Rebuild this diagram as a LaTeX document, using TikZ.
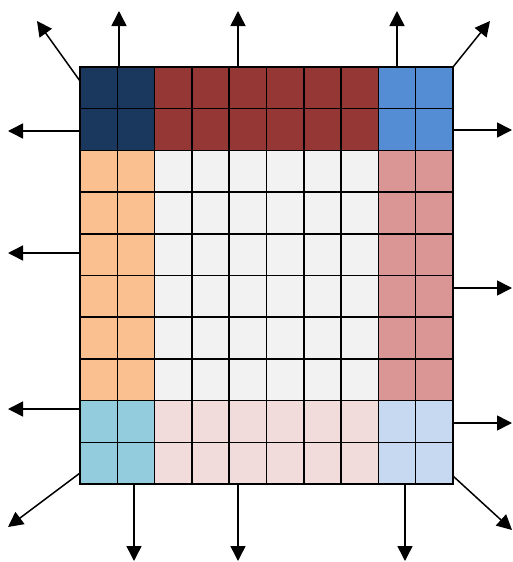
\documentclass[tikz,border=0pt]{standalone}
\usetikzlibrary{arrows.meta}

\definecolor{navycell}{HTML}{1A385E}
\definecolor{redcell}{HTML}{953735}
\definecolor{bluecell}{HTML}{548DD4}
\definecolor{orangecell}{HTML}{FAC090}
\definecolor{graycell}{HTML}{F2F2F2}
\definecolor{pinkcell}{HTML}{D99694}
\definecolor{cyancell}{HTML}{93CDDD}
\definecolor{rosecell}{HTML}{F2DCDB}
\definecolor{skycell}{HTML}{C6D9F1}

\begin{document}
\begin{tikzpicture}[x=1pt, y=-1pt,
    cellline/.style={draw=black, line width=1.5pt},
    outarrow/.style={-{Triangle[length=15pt, width=15pt]}, line width=1.5pt}]

    \useasboundingbox (0,0) rectangle (513,562);

    % Fill the blocks of cells
    \foreach \c/\r/\w/\h/\col in {0/0/2/2/navycell, 2/0/6/2/redcell, 8/0/2/2/bluecell,
                                  0/2/2/6/orangecell, 2/2/6/6/graycell, 8/2/2/6/pinkcell,
                                  0/8/2/2/cyancell, 2/8/6/2/rosecell, 8/8/2/2/skycell} {
        \fill[\col] (80+\c*37.3, 67+\r*41.7) rectangle ++(\w*37.3, \h*41.7);
    }

    % Grid lines
    \foreach \i in {1,...,9} {
        \draw[cellline] (80+\i*37.3, 67) -- (80+\i*37.3, 484);
        \draw[cellline] (80, 67+\i*41.7) -- (453, 67+\i*41.7);
    }

    % Outer border
    \node[draw, line width=2.5pt, minimum width=373pt, minimum height=417pt,
          inner sep=0pt, outer sep=0pt, anchor=north west] (board) at (80,67) {};

    % Arrow ends
    \coordinate (up1) at (119,11);
    \coordinate (up2) at (238,11);
    \coordinate (up3) at (397,11);
    \coordinate (dn1) at (134,561);
    \coordinate (dn2) at (238,561);
    \coordinate (dn3) at (405,561);
    \coordinate (lf1) at (8,131);
    \coordinate (lf2) at (8,253);
    \coordinate (lf3) at (8,409);
    \coordinate (rt1) at (512,130);
    \coordinate (rt2) at (512,288);
    \coordinate (rt3) at (512,423);
    \coordinate (tl) at (37,21);
    \coordinate (tr) at (490,21);
    \coordinate (bl) at (8,527);
    \coordinate (br) at (512,530);

    % Straight arrows
    \foreach \e in {up1, up2, up3} \draw[outarrow] (\e |- board.north) -- (\e);
    \foreach \e in {dn1, dn2, dn3} \draw[outarrow] (\e |- board.south) -- (\e);
    \foreach \e in {lf1, lf2, lf3} \draw[outarrow] (board.west |- \e) -- (\e);
    \foreach \e in {rt1, rt2, rt3} \draw[outarrow] (board.east |- \e) -- (\e);

    % Corner arrows
    \draw[outarrow] ([yshift=-14pt]board.north west) -- (tl);
    \draw[outarrow] (board.north east) -- (tr);
    \draw[outarrow] ([yshift=11pt]board.south west) -- (bl);
    \draw[outarrow] ([yshift=8pt]board.south east) -- (br);

\end{tikzpicture}
\end{document}
